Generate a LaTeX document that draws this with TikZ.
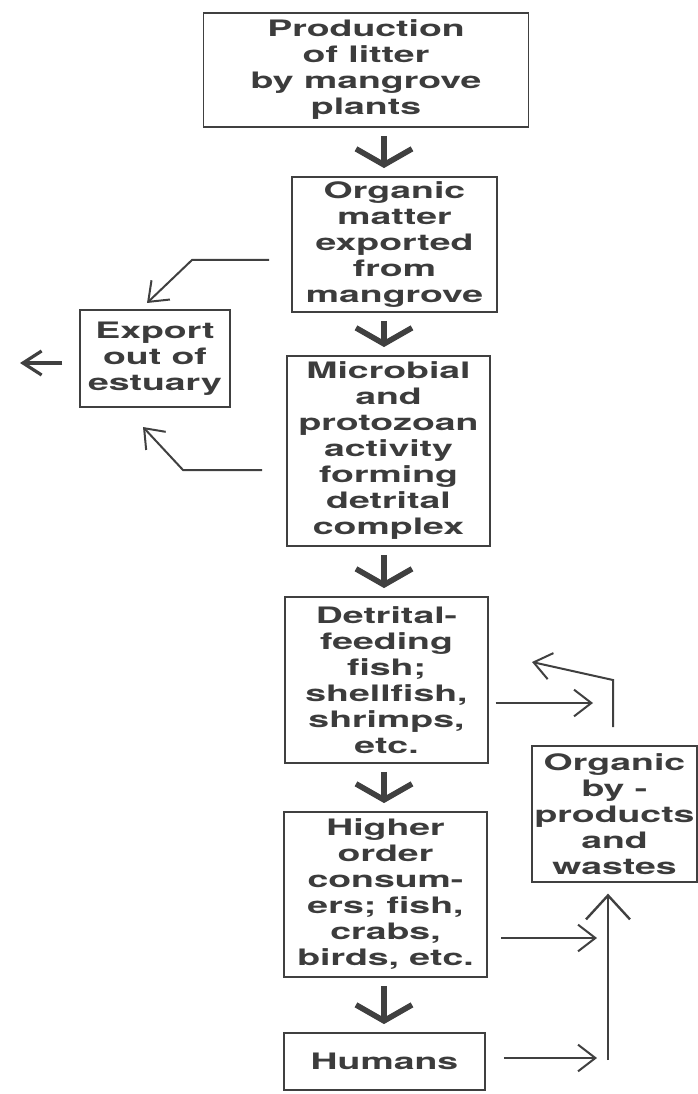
\documentclass[tikz,border=0pt]{standalone}
\usepackage{fontspec}
\newfontfamily\diagfont{TeX Gyre Heros}[FakeStretch=1.65]
\usetikzlibrary{arrows.meta,calc}
\definecolor{inkc}{HTML}{3C3C3C}
\definecolor{linec}{HTML}{404040}
\tikzset{
  box/.style={draw=linec, line width=1.4pt, inner sep=0pt, align=center,
    text=inkc, font=\diagfont\bfseries\fontsize{17}{19.5}\selectfont},
  downarrow/.style={draw=linec, line width=4.2pt,
    -{Straight Barb[length=12pt,width=42pt]}, shorten <=6pt, shorten >=6pt},
  thinarrow/.style={draw=linec, line width=1.5pt,
    -{Straight Barb[length=13pt,width=20pt]}},
  bigup/.style={draw=linec, line width=1.8pt,
    -{Straight Barb[length=18pt,width=33pt]}},
  outarrow/.style={draw=linec, line width=2.4pt,
    -{Straight Barb[length=14pt,width=18pt]}},
  plainline/.style={draw=linec, line width=1.6pt}
}
\begin{document}
\begin{tikzpicture}[x=0.75pt,y=-0.75pt]
\useasboundingbox (0,0) rectangle (698,1094);

\node[box, minimum width=243.75pt, minimum height=85.5pt] (b1) at (366,70)
  {Production\\of litter\\by mangrove\\plants};
\node[box, minimum width=153.75pt, minimum height=101.25pt] (b2) at (394.5,244.5)
  {Organic\\matter\\exported\\from\\mangrove};
\node[box, minimum width=152.25pt, minimum height=142.5pt] (b3) at (388.5,451)
  {Microbial\\and\\protozoan\\activity\\forming\\detrital\\complex};
\node[box, minimum width=152.25pt, minimum height=124.5pt] (b4) at (386.5,680)
  {Detrital-\\feeding\\fish;\\shellfish,\\shrimps,\\etc.};
\node[box, minimum width=152.25pt, minimum height=123.75pt] (b5) at (385.5,894.5)
  {Higher\\order\\consum-\\ers; fish,\\crabs,\\birds, etc.};
\node[box, minimum width=150.75pt, minimum height=42.75pt] (b6) at (384.5,1061.5)
  {Humans};
\node[box, minimum width=112.5pt, minimum height=72.75pt] (ex) at (155,358.5)
  {Export\\out of\\estuary};
\node[box, minimum width=123.75pt, minimum height=102pt] (org) at (614.5,814)
  {Organic\\by -\\products\\and\\wastes};

% main vertical flow
\coordinate (ax) at (384,0);
\draw[downarrow] (b1.south -| ax) -- (b2.north -| ax);
\draw[downarrow] (b2.south -| ax) -- (b3.north -| ax);
\draw[downarrow] (b3.south -| ax) -- (b4.north -| ax);
\draw[downarrow] (b4.south -| ax) -- (b5.north -| ax);
\draw[downarrow] (b5.south -| ax) -- (b6.north -| ax);

% export branch
\coordinate (k1) at (192,260);
\coordinate (t1) at (147,303);
\draw[thinarrow, shorten <=16.5pt] (b2.west |- k1) -- (k1) -- (t1);
\coordinate (k2) at (183,470);
\coordinate (t2) at (143,427);
\draw[thinarrow, shorten <=18pt] (b3.west |- k2) -- (k2) -- (t2);
\coordinate (out) at (20,363);
\draw[outarrow, shorten <=12.5pt] (ex.west |- out) -- (out);

% right side
\coordinate (r4) at (593,703);
\draw[thinarrow, shorten <=5pt] (b4.east |- r4) -- (r4);
\coordinate (kink) at (613,680);
\coordinate (ret) at (532,662);
\draw[thinarrow, shorten <=13.5pt] (org.north -| kink) -- (kink) -- (ret);
\coordinate (r5) at (597,938);
\draw[thinarrow, shorten <=10pt] (b5.east |- r5) -- (r5);
\coordinate (r6) at (597,1058);
\draw[thinarrow, shorten <=13.5pt] (b6.east |- r6) -- (r6);
\coordinate (vb) at (608,1060);
\draw[bigup, shorten >=8pt] (vb) -- (org.south -| vb);
\end{tikzpicture}
\end{document}
